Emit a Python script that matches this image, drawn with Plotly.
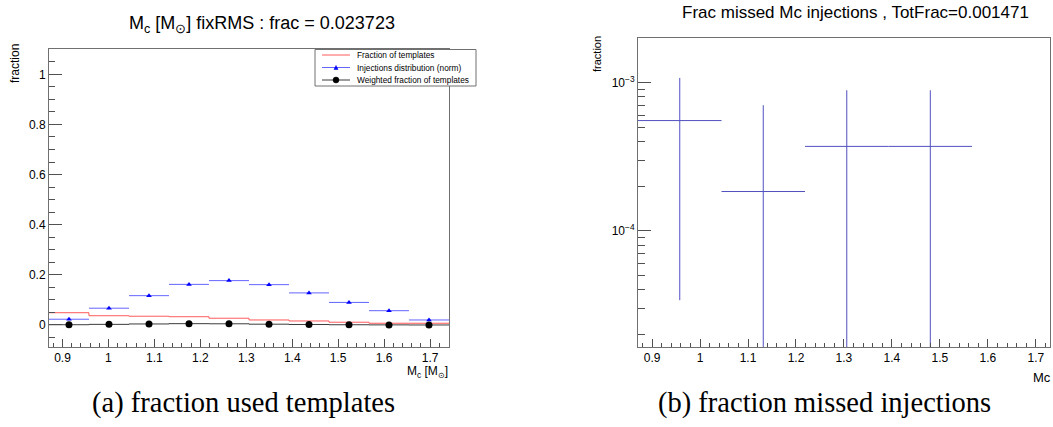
import plotly.graph_objects as go

# ---------------- data ----------------
# left panel: 10 chirp-mass bins
left_bin_edges = [0.8706, 0.9576, 1.0447, 1.1318, 1.2188, 1.3059, 1.3930, 1.4800, 1.5671, 1.6541, 1.7412]
frac_templates = [0.049, 0.037, 0.035, 0.033, 0.027, 0.020, 0.016, 0.011, 0.007, 0.007]
inj_distribution = [0.023, 0.067, 0.117, 0.162, 0.177, 0.161, 0.128, 0.090, 0.057, 0.020]
weighted_frac = [0.0011, 0.0025, 0.0041, 0.0053, 0.0048, 0.0032, 0.0020, 0.0010, 0.0004, 0.0001]

# right panel: 5 chirp-mass bins
right_bin_edges = [0.8706, 1.0447, 1.2188, 1.3930, 1.5671, 1.7412]
missed_frac = [5.54e-4, 1.84e-4, 3.71e-4, 3.71e-4, 0.0]
missed_err = [5.20e-4, 5.19e-4, 5.16e-4, 5.16e-4, 0.0]

left_title = "M<sub>c</sub> [M<sub>⊙</sub>] fixRMS : frac = 0.023723"
right_title = "Frac missed Mc injections , TotFrac=0.001471"
left_xtitle = "M<sub>c</sub> [M<sub>⊙</sub>]"
right_xtitle = "Mc"
ytitle = "fraction"
log_tick_vals = [1e-4, 1e-3]
log_tick_text = ["10<sup>−4</sup>", "10<sup>−3</sup>"]
legend_labels = ["Fraction of templates", "Injections distribution (norm)", "Weighted fraction of templates"]
captions = ["(a) fraction used templates", "(b) fraction missed injections"]

# ---------------- helpers ----------------
W, H = 1053, 427
FONT = "Liberation Sans, Arial, sans-serif"


def px(x):
    return x / W


def py(y):
    return 1 - y / H


def centers(edges):
    return [(a + b) / 2 for a, b in zip(edges[:-1], edges[1:])]


def halfw(edges):
    return [(b - a) / 2 for a, b in zip(edges[:-1], edges[1:])]


RED = "#ff5a5a"
BLUE_LINE = "#6464ff"
BLUE_MK = "#0000ff"
BLACK_LINE = "#3c3c3c"
RIGHT_COL = "#5050c0"

lc = centers(left_bin_edges)
lh = halfw(left_bin_edges)

fig = go.Figure()

# red step histogram
fig.add_trace(go.Scatter(
    x=left_bin_edges, y=frac_templates + frac_templates[-1:],
    mode="lines", line=dict(color=RED, width=1, shape="hv"),
    xaxis="x", yaxis="y", showlegend=False, hoverinfo="skip"))

# blue injections distribution
fig.add_trace(go.Scatter(
    x=lc, y=inj_distribution, mode="markers",
    marker=dict(symbol="triangle-up", size=5, color=BLUE_MK),
    error_x=dict(type="data", array=lh, width=0, color=BLUE_LINE, thickness=1),
    xaxis="x", yaxis="y", showlegend=False))

# black weighted fraction
fig.add_trace(go.Scatter(
    x=left_bin_edges, y=weighted_frac + weighted_frac[-1:],
    mode="lines", line=dict(color=BLACK_LINE, width=1, shape="hv"),
    xaxis="x", yaxis="y", showlegend=False, hoverinfo="skip"))
fig.add_trace(go.Scatter(
    x=lc, y=weighted_frac, mode="markers",
    marker=dict(symbol="circle", size=7, color="black"),
    xaxis="x", yaxis="y", showlegend=False))

# right panel: missed injection fractions (only non-empty bins on log scale)
rc = centers(right_bin_edges)
rh = halfw(right_bin_edges)
sel = [i for i, v in enumerate(missed_frac) if v > 0]
fig.add_trace(go.Scatter(
    x=[rc[i] for i in sel], y=[missed_frac[i] for i in sel], mode="markers",
    marker=dict(size=1, color=RIGHT_COL, opacity=0),
    error_x=dict(type="data", array=[rh[i] for i in sel], width=0, color=RIGHT_COL, thickness=1),
    error_y=dict(type="data", array=[missed_err[i] for i in sel], width=0, color=RIGHT_COL, thickness=1),
    xaxis="x2", yaxis="y2", showlegend=False))

axis_common = dict(
    showline=True, mirror=True, linecolor="#707070", linewidth=1,
    ticks="inside", tickcolor="#505050", tickwidth=1,
    showgrid=False, zeroline=False,
    tickfont=dict(family=FONT, size=12, color="black"),
)

left_x0, left_x1, top_l, bot = 49, 449, 49, 347
right_x0, right_x1, top_r = 638, 1050, 38

minor_log = [m * 10 ** e for e in (-5, -4, -3) for m in range(2, 10)]

fig.update_layout(
    width=W, height=H, margin=dict(l=0, r=0, t=0, b=0),
    paper_bgcolor="white", plot_bgcolor="white", showlegend=False,
    font=dict(family=FONT, color="black"),
    xaxis=dict(domain=[px(left_x0), px(left_x1)], range=[left_bin_edges[0], left_bin_edges[-1]],
               anchor="y", tick0=0.9, dtick=0.1, ticklen=8,
               minor=dict(ticks="inside", dtick=0.02, ticklen=4, tickcolor="#505050"),
               **axis_common),
    yaxis=dict(domain=[py(bot), py(top_l)], range=[-0.0878, 1.101], anchor="x",
               tick0=0, dtick=0.2, ticklen=13,
               minor=dict(ticks="inside", dtick=0.05, ticklen=6, tickcolor="#505050"),
               **axis_common),
    xaxis2=dict(domain=[px(right_x0), px(right_x1)], range=[0.8706, 1.7296],
                anchor="y2", tick0=0.9, dtick=0.1, ticklen=8,
                minor=dict(ticks="inside", dtick=0.02, ticklen=4, tickcolor="#505050"),
                **axis_common),
    yaxis2=dict(domain=[py(bot), py(top_r)], type="log", range=[-4.784, -2.6995], anchor="x2",
                tickmode="array", tickvals=log_tick_vals, ticktext=log_tick_text, ticklen=13,
                minor=dict(ticks="inside", tickvals=minor_log, ticklen=7, tickcolor="#505050"),
                **axis_common),
)

ann = []
# titles
ann.append(dict(text=left_title, x=px(262), y=py(25), xref="paper", yref="paper",
                showarrow=False, xanchor="center", yanchor="middle",
                font=dict(family=FONT, size=18, color="black")))
ann.append(dict(text=right_title, x=px(855), y=py(12), xref="paper", yref="paper",
                showarrow=False, xanchor="center", yanchor="middle",
                font=dict(family=FONT, size=17, color="black")))
# axis titles
ann.append(dict(text=left_xtitle, x=px(450), y=py(372), xref="paper", yref="paper",
                showarrow=False, xanchor="right", yanchor="middle",
                font=dict(family=FONT, size=12, color="black")))
ann.append(dict(text=right_xtitle, x=px(1053), y=py(377), xref="paper", yref="paper",
                showarrow=False, xanchor="right", yanchor="middle",
                font=dict(family=FONT, size=13, color="black")))
ann.append(dict(text=ytitle, x=px(15), y=py(64), xref="paper", yref="paper",
                showarrow=False, xanchor="center", yanchor="middle", textangle=-90,
                font=dict(family=FONT, size=12, color="black")))
ann.append(dict(text=ytitle, x=px(597), y=py(54), xref="paper", yref="paper",
                showarrow=False, xanchor="center", yanchor="middle", textangle=-90,
                font=dict(family=FONT, size=11, color="black")))
# captions
ann.append(dict(text=captions[0], x=px(243), y=py(403), xref="paper", yref="paper",
                showarrow=False, xanchor="center", yanchor="middle",
                font=dict(family="Liberation Serif, Times New Roman, serif", size=28.5, color="black")))
ann.append(dict(text=captions[1], x=px(824), y=py(403), xref="paper", yref="paper",
                showarrow=False, xanchor="center", yanchor="middle",
                font=dict(family="Liberation Serif, Times New Roman, serif", size=28.5, color="black")))

# manual ROOT-style legend box
shapes = []
lx0, lx1, ly0, ly1 = 315, 476, 49.5, 86
shapes.append(dict(type="rect", xref="paper", yref="paper", x0=px(lx0), x1=px(lx1), y0=py(ly1), y1=py(ly0),
                   line=dict(color="#707070", width=1), fillcolor="white", layer="above"))
legend_style = [(RED, None, RED), (BLUE_LINE, "tri", BLUE_MK), (BLACK_LINE, "circ", "black")]
row_y = [55, 67.5, 80]
for (lcol, mk, mcol), ry, lab in zip(legend_style, row_y, legend_labels):
    shapes.append(dict(type="line", xref="paper", yref="paper", x0=px(322), x1=px(350), y0=py(ry), y1=py(ry),
                       line=dict(color=lcol, width=1), layer="above"))
    if mk == "tri":
        path = f"M {px(334)},{py(ry + 2)} L {px(338)},{py(ry + 2)} L {px(336)},{py(ry - 2)} Z"
        shapes.append(dict(type="path", xref="paper", yref="paper", path=path,
                           fillcolor=mcol, line=dict(color=mcol, width=0.5), layer="above"))
    elif mk == "circ":
        shapes.append(dict(type="circle", xref="paper", yref="paper",
                           x0=px(333), x1=px(339), y0=py(ry + 3), y1=py(ry - 3),
                           fillcolor=mcol, line=dict(color=mcol, width=0.5), layer="above"))
    ann.append(dict(text=lab, x=px(355), y=py(ry), xref="paper", yref="paper",
                    showarrow=False, xanchor="left", yanchor="middle",
                    font=dict(family=FONT, size=8.3, color="black")))

fig.update_layout(annotations=ann, shapes=shapes)

fig.write_html("out.html")
